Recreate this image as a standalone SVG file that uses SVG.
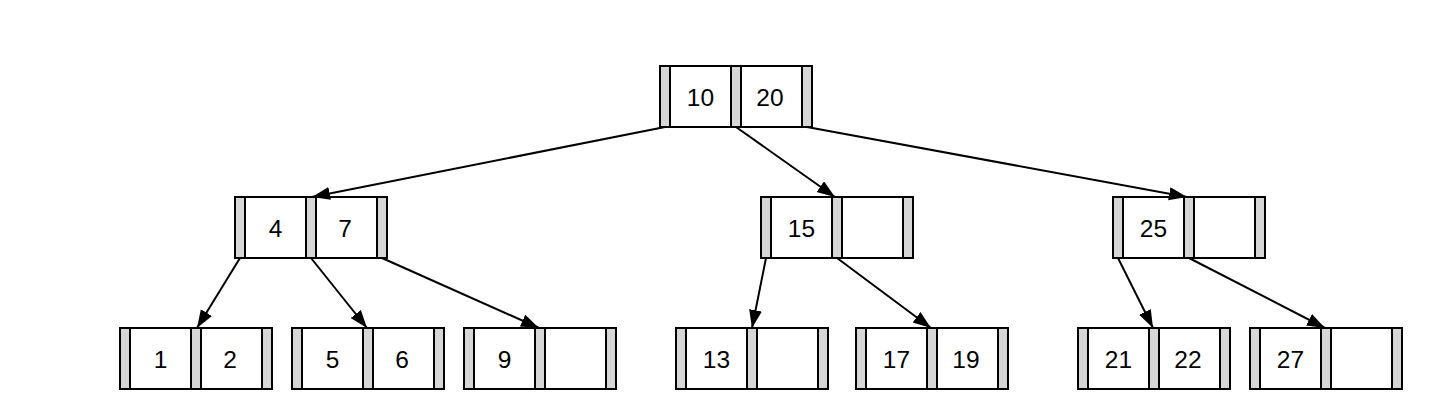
<svg xmlns="http://www.w3.org/2000/svg" width="1454" height="411" viewBox="0 0 1454 411">
<style>
.ptr{fill:#d6d6d6;stroke:none}
.box{fill:none;stroke:#000;stroke-width:2}
.div{stroke:#000;stroke-width:2}
.key{font-family:"Liberation Sans",Arial,sans-serif;font-size:24.5px;fill:#000;text-anchor:middle}
.edge{stroke:#000;stroke-width:2;fill:none;marker-end:url(#ah)}
</style>
<defs>
<marker id="ah" markerUnits="userSpaceOnUse" markerWidth="20" markerHeight="14" refX="18" refY="6.5" orient="auto">
<path d="M0,0 L18,6.5 L0,13 z" fill="#000"/>
</marker>
<g id="nodeShape">
<rect class="ptr" x="0" y="0" width="10" height="61"/>
<rect class="ptr" x="71" y="0" width="10" height="61"/>
<rect class="ptr" x="142" y="0" width="10" height="61"/>
<rect class="box" x="0" y="0" width="152" height="61"/>
<line class="div" x1="10" y1="0" x2="10" y2="61"/>
<line class="div" x1="71" y1="0" x2="71" y2="61"/>
<line class="div" x1="81" y1="0" x2="81" y2="61"/>
<line class="div" x1="142" y1="0" x2="142" y2="61"/>
</g>
</defs>
<rect width="1454" height="411" fill="#fff"/>
<g id="connectors">
<line class="edge" x1="665" y1="127" x2="312" y2="197"/>
<line class="edge" x1="736" y1="127" x2="835" y2="197"/>
<line class="edge" x1="807" y1="127" x2="1187" y2="197"/>
<line class="edge" x1="240" y1="258" x2="197" y2="328"/>
<line class="edge" x1="311" y1="258" x2="367" y2="328"/>
<line class="edge" x1="382" y1="258" x2="539" y2="328"/>
<line class="edge" x1="766" y1="258" x2="752" y2="328"/>
<line class="edge" x1="837" y1="258" x2="931" y2="328"/>
<line class="edge" x1="1118" y1="258" x2="1153" y2="328"/>
<line class="edge" x1="1189" y1="258" x2="1325" y2="328"/>
</g>
<g id="n_root" transform="translate(660,66)"><use href="#nodeShape"/><text class="key" x="40.5" y="40">10</text><text class="key" x="110" y="40">20</text></g>
<g id="n_4_7" transform="translate(235,197)"><use href="#nodeShape"/><text class="key" x="40.5" y="40">4</text><text class="key" x="110" y="40">7</text></g>
<g id="n_15" transform="translate(761,197)"><use href="#nodeShape"/><text class="key" x="40.5" y="40">15</text></g>
<g id="n_25" transform="translate(1113,197)"><use href="#nodeShape"/><text class="key" x="40.5" y="40">25</text></g>
<g id="n_1_2" transform="translate(120,328)"><use href="#nodeShape"/><text class="key" x="40.5" y="40">1</text><text class="key" x="110" y="40">2</text></g>
<g id="n_5_6" transform="translate(292,328)"><use href="#nodeShape"/><text class="key" x="40.5" y="40">5</text><text class="key" x="110" y="40">6</text></g>
<g id="n_9" transform="translate(464,328)"><use href="#nodeShape"/><text class="key" x="40.5" y="40">9</text></g>
<g id="n_13" transform="translate(676,328)"><use href="#nodeShape"/><text class="key" x="40.5" y="40">13</text></g>
<g id="n_17_19" transform="translate(856,328)"><use href="#nodeShape"/><text class="key" x="40.5" y="40">17</text><text class="key" x="110" y="40">19</text></g>
<g id="n_21_22" transform="translate(1078,328)"><use href="#nodeShape"/><text class="key" x="40.5" y="40">21</text><text class="key" x="110" y="40">22</text></g>
<g id="n_27" transform="translate(1250,328)"><use href="#nodeShape"/><text class="key" x="40.5" y="40">27</text></g>
</svg>
